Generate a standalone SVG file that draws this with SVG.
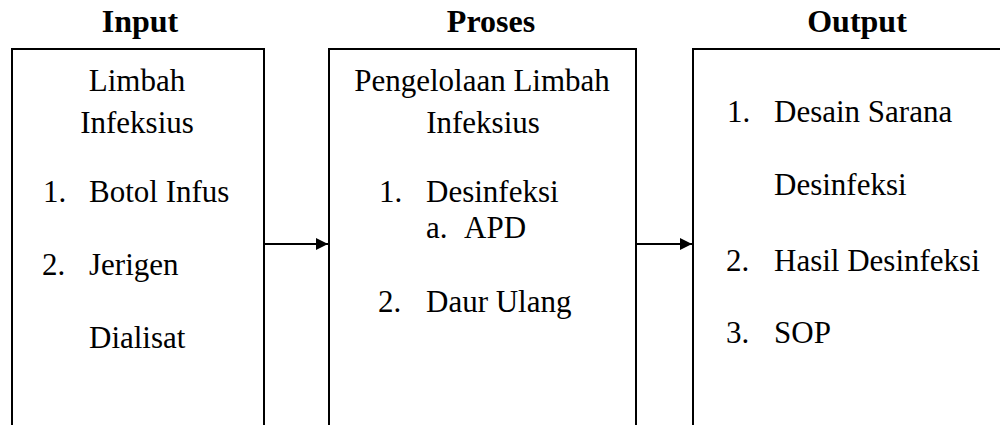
<svg xmlns="http://www.w3.org/2000/svg" width="1000" height="425" viewBox="0 0 1000 425">
  <defs>
    <marker id="head" markerWidth="12" markerHeight="12" viewBox="0 0 12 12" refX="12" refY="6" orient="auto" markerUnits="userSpaceOnUse">
      <path d="M0,0 L12,6 L0,12 Z" fill="#000"/>
    </marker>
  </defs>
  <rect width="1000" height="425" fill="#fff"/>

  <!-- column frames: open at the bottom -->
  <g id="frames" fill="none" stroke="#000" stroke-width="2">
    <path d="M12,425 V49 H264 V425"/>
    <path d="M329,425 V49 H636 V425"/>
    <path d="M693,425 V49 H1002"/>
  </g>

  <!-- column headings -->
  <g id="headings" text-anchor="middle" font-family="Times New Roman, Liberation Serif, serif" font-size="32" font-weight="bold">
    <text x="140" y="32">Input</text>
    <text x="491" y="32">Proses</text>
    <text x="857" y="32">Output</text>
  </g>

  <!-- Input column -->
  <g id="input" font-family="Times New Roman, Liberation Serif, serif" font-size="31" font-weight="normal">
    <text x="137" y="91" text-anchor="middle">Limbah</text>
    <text x="137" y="133" text-anchor="middle">Infeksius</text>
    <text x="43" y="202">1.</text>
    <text x="89" y="202">Botol Infus</text>
    <text x="42" y="275">2.</text>
    <text x="89" y="275">Jerigen</text>
    <text x="89" y="348">Dialisat</text>
  </g>

  <!-- Proses column -->
  <g id="proses" font-family="Times New Roman, Liberation Serif, serif" font-size="31" font-weight="normal">
    <text x="482" y="91" text-anchor="middle">Pengelolaan Limbah</text>
    <text x="483" y="133" text-anchor="middle">Infeksius</text>
    <text x="379" y="202">1.</text>
    <text x="426" y="202">Desinfeksi</text>
    <text x="426" y="238">a.</text>
    <text x="464" y="238">APD</text>
    <text x="378" y="312">2.</text>
    <text x="426" y="312">Daur Ulang</text>
  </g>

  <!-- Output column -->
  <g id="output" font-family="Times New Roman, Liberation Serif, serif" font-size="31" font-weight="normal">
    <text x="727" y="122">1.</text>
    <text x="774" y="122">Desain Sarana</text>
    <text x="774" y="195">Desinfeksi</text>
    <text x="726" y="271">2.</text>
    <text x="774" y="271">Hasil Desinfeksi</text>
    <text x="726" y="343">3.</text>
    <text x="774" y="343">SOP</text>
  </g>

  <!-- connectors -->
  <g id="connectors" stroke="#000" stroke-width="2" fill="none">
    <line x1="265" y1="244" x2="328" y2="244" marker-end="url(#head)"/>
    <line x1="637" y1="244" x2="692" y2="244" marker-end="url(#head)"/>
  </g>
</svg>
